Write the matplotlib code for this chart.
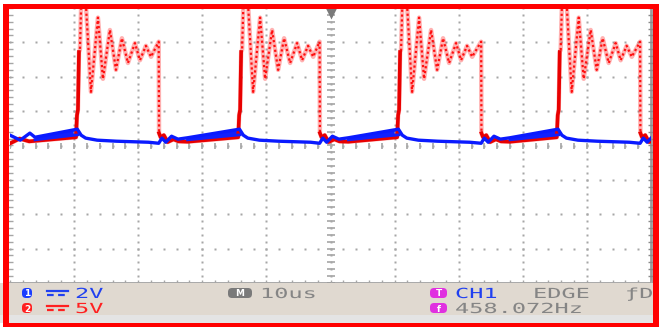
import numpy as np
import matplotlib
matplotlib.use("Agg")
import matplotlib.pyplot as plt
from matplotlib.patches import Rectangle, FancyBboxPatch
from matplotlib.lines import Line2D
from matplotlib.transforms import Affine2D, IdentityTransform
from matplotlib import patheffects

ANCHO, ALTO = 659, 327

# Escalas de los canales (V/div) y base de tiempo (us/div)
escala_ch1 = 2
escala_ch2 = 5
base_tiempo = 10

# Flancos del pulso de CH2 (us respecto al disparo)
subidas_us = [-39.4, -14.1, 10.7, 35.6]
bajadas_us = [-26.8, -1.7, 23.5, 48.3]

# CH2: inicio de la pantalla (us, V)
inicio_ch2_t = [-50.0, -48.5, -47.0]
inicio_ch2_v = [0.3, 1.0, 0.6]

# CH2: justo antes de la subida (us relativos, V)
antes_dt = [-0.3, -0.15]
antes_v = [1.2, 4.4]

# CH2: pulso alto con oscilacion desde la subida (us relativos, V)
pulso_dt = [0.0, 0.16, 0.31, 0.55, 1.15, 2.03, 3.12, 3.90, 4.99, 5.93, 6.86, 7.80, 8.89, 9.67, 10.6, 11.4]
pulso_v = [5.2, 13.6, 13.9, 22.0, 22.0, 7.8, 18.6, 9.7, 16.8, 11.0, 15.6, 12.0, 14.9, 12.4, 14.5, 12.9]
pico_final_v = 15.1

# CH2: nivel bajo despues de la bajada (us relativos, V)
bajo_dt = [0.05, 0.3, 0.8, 1.4, 2.3, 3.1, 4.5]
bajo_v = [1.8, 1.2, 1.5, 0.5, 0.9, 0.6, 0.55]

# CH1: inicio de la pantalla (us, V)
inicio_ch1_t = [-50.0, -48.4, -46.9, -46.1]
inicio_ch1_v = [0.6, 0.31, 0.72, 0.48]

# CH1: despues de la bajada de CH2 (us relativos, V)
ch1_bajada_dt = [0.0, 0.5, 1.1, 2.0, 3.0, 4.5]
ch1_bajada_v = [0.13, 0.43, 0.19, 0.54, 0.37, 0.45]
ch1_tope_v = 0.95
ch1_rampa_baja_v = [0.33, 0.62]

# CH1: despues de la subida de CH2 (us relativos, V)
ch1_subida_dt = [0.5, 1.2, 3.0, 6.0, 11.0]
ch1_subida_v = [0.6, 0.43, 0.31, 0.25, 0.19]


class Estirar(patheffects.AbstractPathEffect):
    """Ensancha el texto en horizontal, como la fuente del osciloscopio"""
    def __init__(self, factor):
        super().__init__()
        self.factor = factor

    def draw_path(self, renderer, gc, tpath, affine, rgbFace=None):
        renderer.draw_path(gc, tpath, Affine2D().scale(self.factor, 1) + affine, rgbFace)


def traza_ch2():
    t, v = list(inicio_ch2_t), list(inicio_ch2_v)
    tramos_bajos = []
    ini = 0
    for i, (s, b) in enumerate(zip(subidas_us, bajadas_us)):
        if i > 0:
            ini = len(t)
            t += [bajadas_us[i - 1] + d for d in bajo_dt]
            v += bajo_v
        t += [s + d for d in antes_dt]
        v += antes_v
        t += [s + d for d in pulso_dt[:2]]
        v += pulso_v[:2]
        tramos_bajos.append((t[ini:], v[ini:]))
        t += [s + d for d in pulso_dt[2:]]
        v += pulso_v[2:]
        t += [b]
        v += [pico_final_v]
    ini = len(t)
    t += [bajadas_us[-1] + d for d in bajo_dt]
    v += bajo_v
    tramos_bajos.append((t[ini:], v[ini:]))
    return np.array(t), np.array(v), tramos_bajos


def traza_ch1():
    t, v = list(inicio_ch1_t), list(inicio_ch1_v)
    rampas = [(inicio_ch1_t[-1], inicio_ch1_v[-1], subidas_us[0])]
    for i, (s, b) in enumerate(zip(subidas_us, bajadas_us)):
        if i > 0:
            previa = bajadas_us[i - 1]
            t += [previa + d for d in ch1_bajada_dt]
            v += ch1_bajada_v
            rampas.append((previa + ch1_bajada_dt[-1], ch1_bajada_v[-1], s))
        t += [s - 0.1]
        v += [ch1_tope_v]
        t += [s + d for d in ch1_subida_dt]
        v += ch1_subida_v
    t += [bajadas_us[-1] + d for d in ch1_bajada_dt]
    v += ch1_bajada_v
    return np.array(t), np.array(v), rampas


fig = plt.figure(figsize=(ANCHO / 100, ALTO / 100), dpi=100)
fig.patch.set_facecolor("white")

# Pantalla de la reticula
ax = fig.add_axes([10 / ANCHO, (ALTO - 283) / ALTO, 641 / ANCHO, 275 / ALTO])
ax.set_xlim(-5 * base_tiempo, 5 * base_tiempo)
ax.set_ylim(-4, 4)
ax.axis("off")

gris = "#a6a6a6"
puntos_y = np.arange(-4, 4.01, 0.2)
puntos_x = np.arange(-50, 50.1, 2)
for k in range(-4, 5):
    ax.plot(np.full_like(puntos_y, k * base_tiempo), puntos_y, ls="none", marker="s", ms=1.5, color=gris, mec="none")
for k in range(-3, 4):
    ax.plot(puntos_x, np.full_like(puntos_x, k), ls="none", marker="s", ms=1.6, color=gris, mec="none")
# ejes centrales con marcas
ax.plot(np.zeros_like(puntos_y), puntos_y, ls="none", marker="_", ms=6, mew=1.2, color=gris)
ax.plot(puntos_x, np.zeros_like(puntos_x), ls="none", marker="|", ms=4, mew=1.2, color=gris)
# bordes de la reticula
ax.plot([50, 50], [-4, 4], color="#9a9a9a", lw=2, clip_on=False)
ax.plot(np.full_like(puntos_y, 50), puntos_y, ls="none", marker="_", ms=5, mew=1, color="#8a8a8a", clip_on=False)
ax.plot(np.full_like(puntos_y, -50), puntos_y, ls="none", marker="_", ms=5, mew=1, color=gris, clip_on=False)
ax.plot([-50, 50], [-4, -4], color="#9a9a9a", lw=1.2, clip_on=False)
ax.plot(puntos_x, np.full_like(puntos_x, -4), ls="none", marker="|", ms=5, mew=1, color=gris, clip_on=False)
# marca del punto de disparo
ax.plot(0, 3.86, marker="v", ms=8, color="#7a7a7a", mec="none", clip_on=False)

# Trazas
t2, v2, bajos2 = traza_ch2()
ax.plot(t2, v2 / escala_ch2, color="#ff0000", alpha=0.3, lw=3.2)
ax.plot(t2, v2 / escala_ch2, color="#ff1010", lw=1.6, ls=(0, (1.0, 1.2)))
for tt, vv in bajos2:
    ax.plot(tt, np.array(vv) / escala_ch2, color="#e80000", lw=2.6)

t1, v1, rampas1 = traza_ch1()
for t_ini, v_ini, t_fin in rampas1:
    ax.fill_between([t_ini, t_fin], [v_ini / escala_ch1, ch1_tope_v / escala_ch1],
                    [ch1_rampa_baja_v[0] / escala_ch1, ch1_rampa_baja_v[1] / escala_ch1],
                    color="#1020ff", lw=0)
    ax.plot([t_ini, t_fin], np.array(ch1_rampa_baja_v) / escala_ch1, color="#1020ff", lw=2.0)
ax.plot(t1, v1 / escala_ch1, color="#0a1aff", lw=2.4)

# Barra de estado
fig.add_artist(Rectangle((0, ALTO - 315), ANCHO, 32, transform=IdentityTransform(), fc="#e0d9d0", ec="none", zorder=1))
fig.add_artist(Rectangle((0, ALTO - 323), ANCHO, 8, transform=IdentityTransform(), fc="#e4e4e4", ec="none", zorder=1))


def insignia(x0, x1, y0, y1, letra, color):
    fig.add_artist(FancyBboxPatch((x0, ALTO - y1), x1 - x0, y1 - y0, boxstyle="round,pad=0,rounding_size=4",
                                  transform=IdentityTransform(), fc=color, ec="none", zorder=2))
    fig.text((x0 + x1) / 2 / ANCHO, 1 - (y0 + y1) / 2 / ALTO, letra, color="white", fontsize=6.5,
             weight="bold", family="DejaVu Sans", ha="center", va="center_baseline", zorder=3)


def texto(x, y, s, color):
    fig.text(x / ANCHO, 1 - y / ALTO, s, color=color, fontsize=10, family="DejaVu Sans Mono",
             ha="left", va="baseline", path_effects=[Estirar(1.7)], zorder=3)


def simbolo_dc(y, color):
    fig.add_artist(Line2D([47, 68], [ALTO - y, ALTO - y], transform=IdentityTransform(), color=color, lw=1.6, zorder=3))
    fig.add_artist(Line2D([47, 68], [ALTO - y - 4, ALTO - y - 4], transform=IdentityTransform(), color=color,
                          lw=1.6, ls=(0, (3, 2)), zorder=3))


azul_txt = "#2040f0"
rojo_txt = "#ff2020"
gris_txt = "#858585"
magenta = "#e030e0"

insignia(22, 32, 288, 298, "1", "#1a3cff")
insignia(22, 32, 303, 313, "2", "#ff2020")
simbolo_dc(291, azul_txt)
simbolo_dc(306, rojo_txt)
texto(75, 298, f"{escala_ch1}V", azul_txt)
texto(75, 313, f"{escala_ch2}V", rojo_txt)

insignia(228, 252, 288, 298, "M", "#7a7a7a")
texto(260, 298, f"{base_tiempo}us", gris_txt)

insignia(430, 447, 288, 298, "T", magenta)
insignia(430, 447, 303, 313, "f", magenta)
texto(455, 298, "CH1", azul_txt)
texto(533, 298, "EDGE", gris_txt)
texto(625, 298, "ƒD", gris_txt)
texto(455, 313, "458.072Hz", gris_txt)

# Marco rojo
rojo = "#ff0000"
for x, y, w, h in [(3, 0, 6, 323), (3, 318, 656, 5), (653, 0, 6, 323), (3, 0, 656, 4)]:
    fig.add_artist(Rectangle((x, y), w, h, transform=IdentityTransform(), fc=rojo, ec="none", zorder=10))

fig.savefig("out.png", dpi=100)
